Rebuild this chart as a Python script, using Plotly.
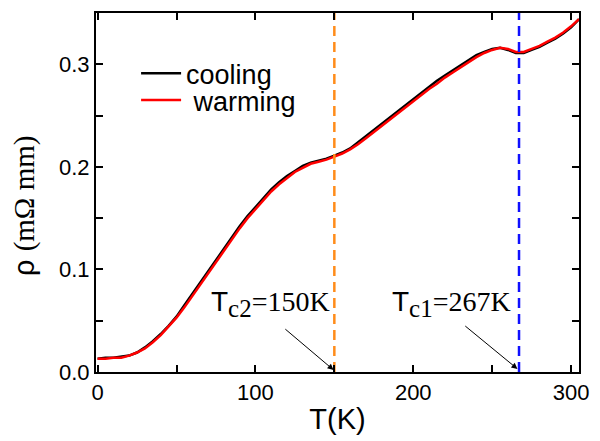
import plotly.graph_objects as go

T = list(range(0, 310, 5))
warming = [0.013, 0.013, 0.014, 0.014, 0.016, 0.019, 0.023, 0.029, 0.036, 0.044,
           0.053, 0.063, 0.074, 0.086, 0.097, 0.108, 0.119, 0.130, 0.140, 0.150,
           0.159, 0.168, 0.176, 0.183, 0.189, 0.195, 0.199, 0.203, 0.205, 0.207,
           0.210, 0.213, 0.217, 0.222, 0.228, 0.234, 0.240, 0.246, 0.252, 0.258,
           0.264, 0.270, 0.276, 0.281, 0.287, 0.292, 0.297, 0.302, 0.307, 0.311,
           0.314, 0.316, 0.315, 0.312, 0.312, 0.315, 0.318, 0.322, 0.326, 0.331,
           0.337, 0.344]
cooling = [0.013, 0.014, 0.014, 0.015, 0.016, 0.019, 0.024, 0.030, 0.037, 0.045,
           0.054, 0.065, 0.076, 0.088, 0.099, 0.110, 0.121, 0.132, 0.142, 0.152,
           0.161, 0.170, 0.178, 0.185, 0.191, 0.196, 0.201, 0.204, 0.206, 0.208,
           0.211, 0.214, 0.218, 0.224, 0.230, 0.236, 0.242, 0.248, 0.254, 0.260,
           0.266, 0.272, 0.278, 0.284, 0.289, 0.294, 0.299, 0.304, 0.309, 0.312,
           0.315, 0.316, 0.314, 0.311, 0.311, 0.314, 0.317, 0.321, 0.325, 0.330,
           0.336, 0.344]
Tc2 = 150
Tc1 = 267

serif = "Liberation Serif"
sans = "Liberation Sans"

fig = go.Figure()
fig.add_trace(go.Scatter(x=T, y=cooling, mode="lines", name="cooling", legend="legend",
                         line=dict(color="black", width=2.5)))
fig.add_trace(go.Scatter(x=T, y=warming, mode="lines", name=" warming", legend="legend2",
                         line=dict(color="#ff0000", width=2.5)))

ymax = 0.35
fig.add_trace(go.Scatter(x=[Tc2, Tc2], y=[0, ymax], mode="lines", showlegend=False,
                         line=dict(color="#ff8c1a", width=2.5, dash="10px,6px")))
fig.add_trace(go.Scatter(x=[Tc1, Tc1], y=[0, ymax], mode="lines", showlegend=False,
                         line=dict(color="#1010ff", width=2.5, dash="10px,6px")))

fig.add_annotation(x=Tc2 - 0.5, y=0.002, ax=118, ay=0.043, xref="x", yref="y",
                   axref="x", ayref="y", text="", showarrow=True,
                   arrowhead=2, arrowsize=1.2, arrowwidth=1, arrowcolor="black")
fig.add_annotation(x=Tc1 - 1, y=0.003, ax=232, ay=0.046, xref="x", yref="y",
                   axref="x", ayref="y", text="", showarrow=True,
                   arrowhead=2, arrowsize=1.2, arrowwidth=1, arrowcolor="black")
for tc, lab, xc in [(Tc2, "c2", 109.5), (Tc1, "c1", 224.5)]:
    fig.add_annotation(
        x=xc, y=0.066, xref="x", yref="y", showarrow=False,
        text=(f"<span style='font-family:{sans}'>T</span>"
              f"<sub><span style='font-size:25px'>{lab}</span></sub>={tc}K"),
        font=dict(family=serif, size=28, color="black"))

fig.add_annotation(x=-0.147, y=(372 - 205) / 361, xref="paper", yref="paper",
                   showarrow=False, textangle=-90, xanchor="center", yanchor="middle",
                   text=f"ρ <span style='font-family:{serif}'>(mΩ mm)</span>",
                   font=dict(family=sans, size=29, color="black"))

axis_common = dict(showline=True, linecolor="black", linewidth=2, mirror="ticks",
                   ticks="inside", ticklen=7, tickwidth=1.5, tickcolor="black",
                   showgrid=False, zeroline=False,
                   tickfont=dict(family=sans, size=22, color="black"))
fig.update_xaxes(range=[-1, 305], tick0=0, dtick=100,
                 minor=dict(ticks="inside", ticklen=7, dtick=50, tickcolor="black", tickwidth=1.5),
                 title=dict(text="T(K)", font=dict(family=sans, size=29, color="black"), standoff=4),
                 **axis_common)
fig.update_yaxes(range=[0, ymax], tick0=0, dtick=0.1, tickformat=".1f",
                 minor=dict(ticks="inside", ticklen=7, dtick=0.05, tickcolor="black", tickwidth=1.5),
                 **axis_common)

leg_common = dict(xanchor="left", yanchor="middle", bgcolor="rgba(0,0,0,0)",
                  itemwidth=40, font=dict(family=sans, size=27, color="black"))
fig.update_layout(width=600, height=441, margin=dict(l=96, r=14, t=11, b=69),
                  plot_bgcolor="white", paper_bgcolor="white",
                  legend=dict(x=0.083, y=(372 - 72) / 361, **leg_common),
                  legend2=dict(x=0.083, y=(372 - 99) / 361, **leg_common))

fig.write_html("out.html")
